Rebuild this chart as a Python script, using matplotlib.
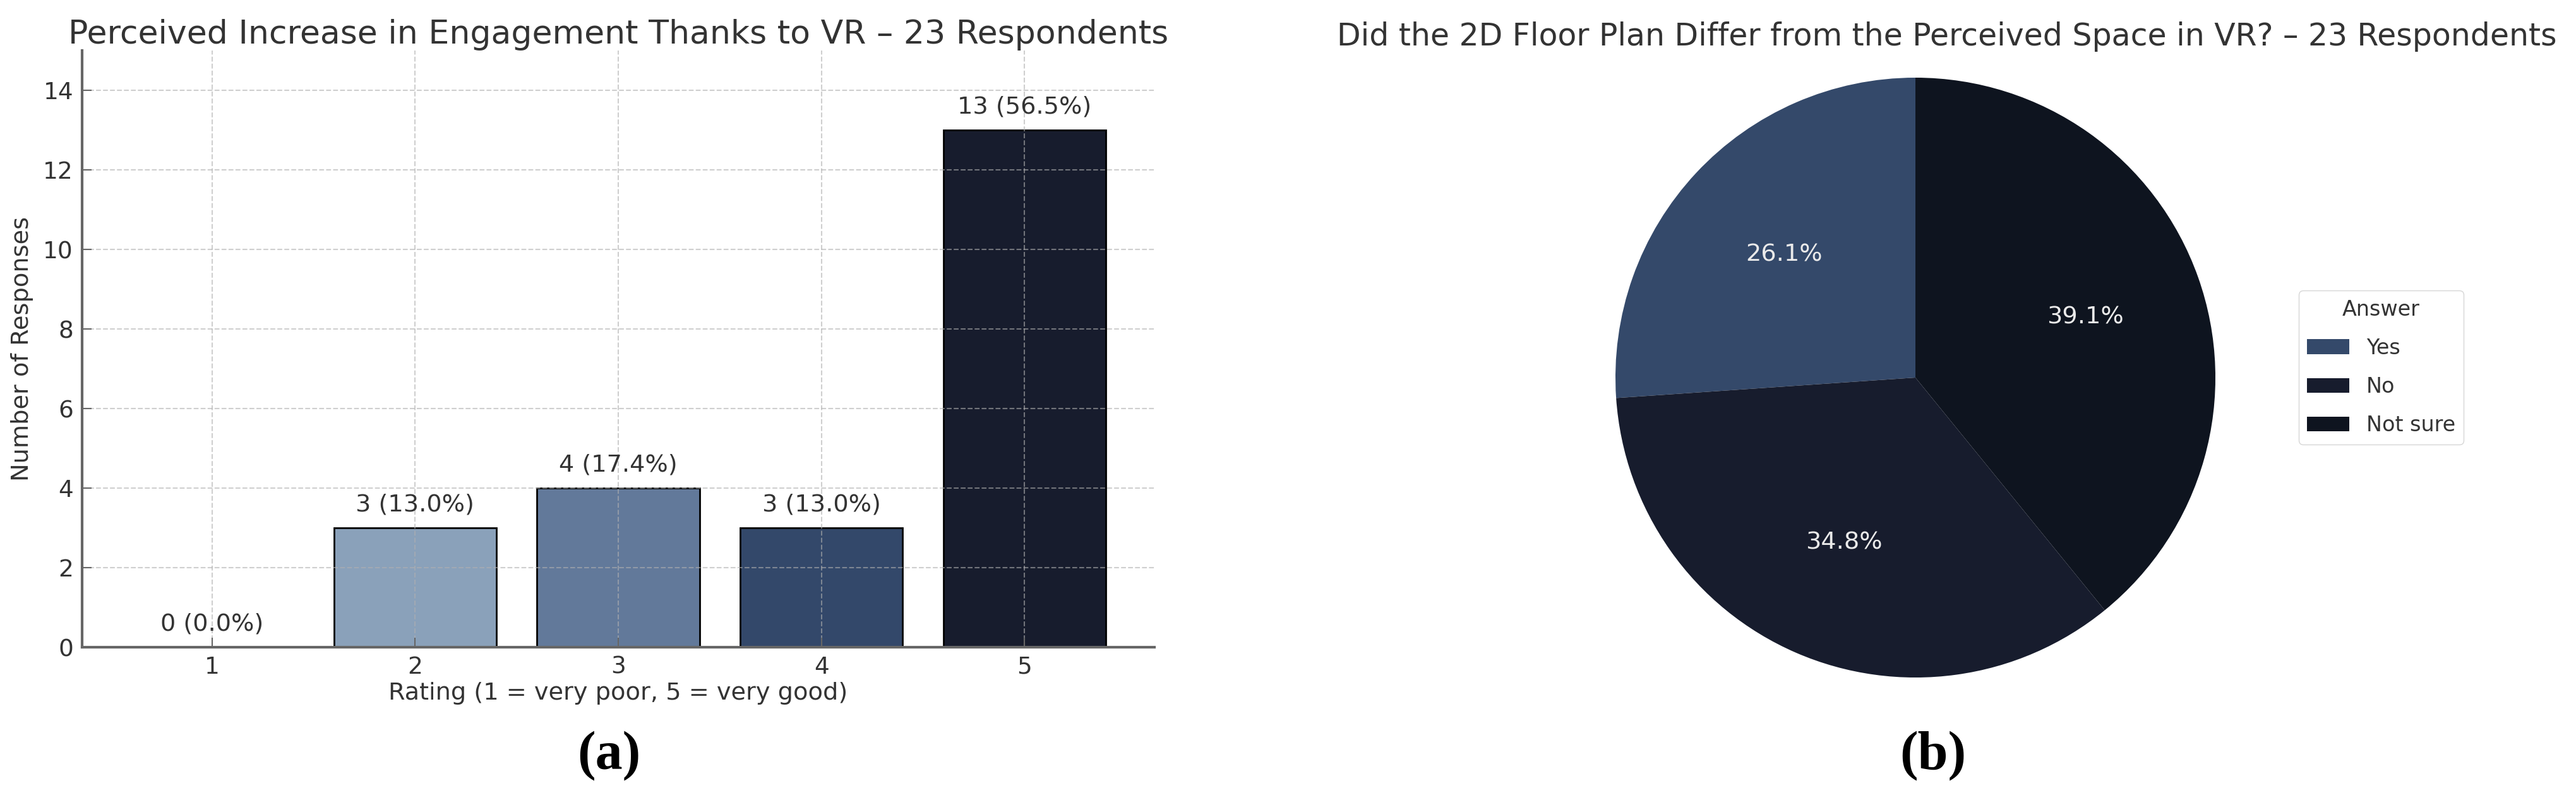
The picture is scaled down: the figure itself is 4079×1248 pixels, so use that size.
import matplotlib
matplotlib.use("Agg")
import matplotlib.pyplot as plt

# data
ratings = [1, 2, 3, 4, 5]
counts = [0, 3, 4, 3, 13]
bar_colors = ["#b7c6d6", "#8aa1ba", "#62799a", "#33486a", "#171c2d"]

answers = ["Yes", "No", "Not sure"]
answer_counts = [6, 8, 9]
pie_colors = ["#34496a", "#171c2d", "#0e141f"]

W, H = 4080, 1248
txt = "#333333"
plt.rcParams["font.family"] = ["DejaVu Sans"]

fig = plt.figure(figsize=(W / 100, H / 100), dpi=100)

# ---- (a) bar chart
ax1 = fig.add_axes([130 / W, (H - 1025) / H, (1828 - 130) / W, (1025 - 80) / H])
total = sum(counts)
bars = ax1.bar(ratings, counts, color=bar_colors, edgecolor="black", linewidth=2)
for r, c in zip(ratings, counts):
    ax1.text(r, c + 0.3, "%d (%.1f%%)" % (c, 100 * c / total),
             ha="center", va="bottom", fontsize=27.5, color=txt)
ax1.set_ylim(0, 15)
ax1.set_xticks(ratings)
ax1.set_yticks(range(0, 15, 2))
ax1.grid(True, linestyle="--", linewidth=1.5, color="#b0b0b0", alpha=0.6)
ax1.spines[["top", "right"]].set_visible(False)
for s in ["left", "bottom"]:
    ax1.spines[s].set_linewidth(3)
    ax1.spines[s].set_color("#666666")
ax1.tick_params(direction="in", length=11, width=1.5, labelsize=27,
                colors="#666666", pad=10)
ax1.tick_params(labelcolor=txt)
ax1.set_xlabel("Rating (1 = very poor, 5 = very good)", fontsize=27.5, color=txt)
ax1.set_ylabel("Number of Responses", fontsize=27.5, color=txt, labelpad=11)
ax1.set_title("Perceived Increase in Engagement Thanks to VR \u2013 23 Respondents",
              fontsize=37.5, color=txt)

# ---- (b) pie chart
cx, cy, rad = 3033, 598, 475
ax2 = fig.add_axes([(cx - rad) / W, (H - cy - rad) / H, 2 * rad / W, 2 * rad / H])
wedges, texts, autotexts = ax2.pie(answer_counts, colors=pie_colors, autopct="%1.1f%%",
                                   startangle=90, pctdistance=0.6,
                                   textprops=dict(color="#eaeaea", fontsize=27.5))
ax2.set_xlim(-1, 1)
ax2.set_ylim(-1, 1)
ax2.set_title("Did the 2D Floor Plan Differ from the Perceived Space in VR? \u2013 23 Respondents",
              fontsize=35.2, color=txt, x=(3083 - (cx - rad)) / (2 * rad), pad=37)
leg = ax2.legend(wedges, answers, title="Answer", loc="center left",
                 bbox_to_anchor=(3640 / W, 1 - 582 / H), bbox_transform=fig.transFigure,
                 borderaxespad=0, fontsize=24, title_fontsize=24,
                 labelspacing=0.85, handlelength=2.0, handletextpad=0.8)
leg.get_title().set_color(txt)
for t in leg.get_texts():
    t.set_color(txt)

fig.text(964 / W, 1 - 1197 / H, "(a)", ha="center", va="center", fontsize=62,
         fontweight="bold", family="Liberation Serif")
fig.text(3061 / W, 1 - 1197 / H, "(b)", ha="center", va="center", fontsize=62,
         fontweight="bold", family="Liberation Serif")

fig.savefig("out.png", dpi=100)
